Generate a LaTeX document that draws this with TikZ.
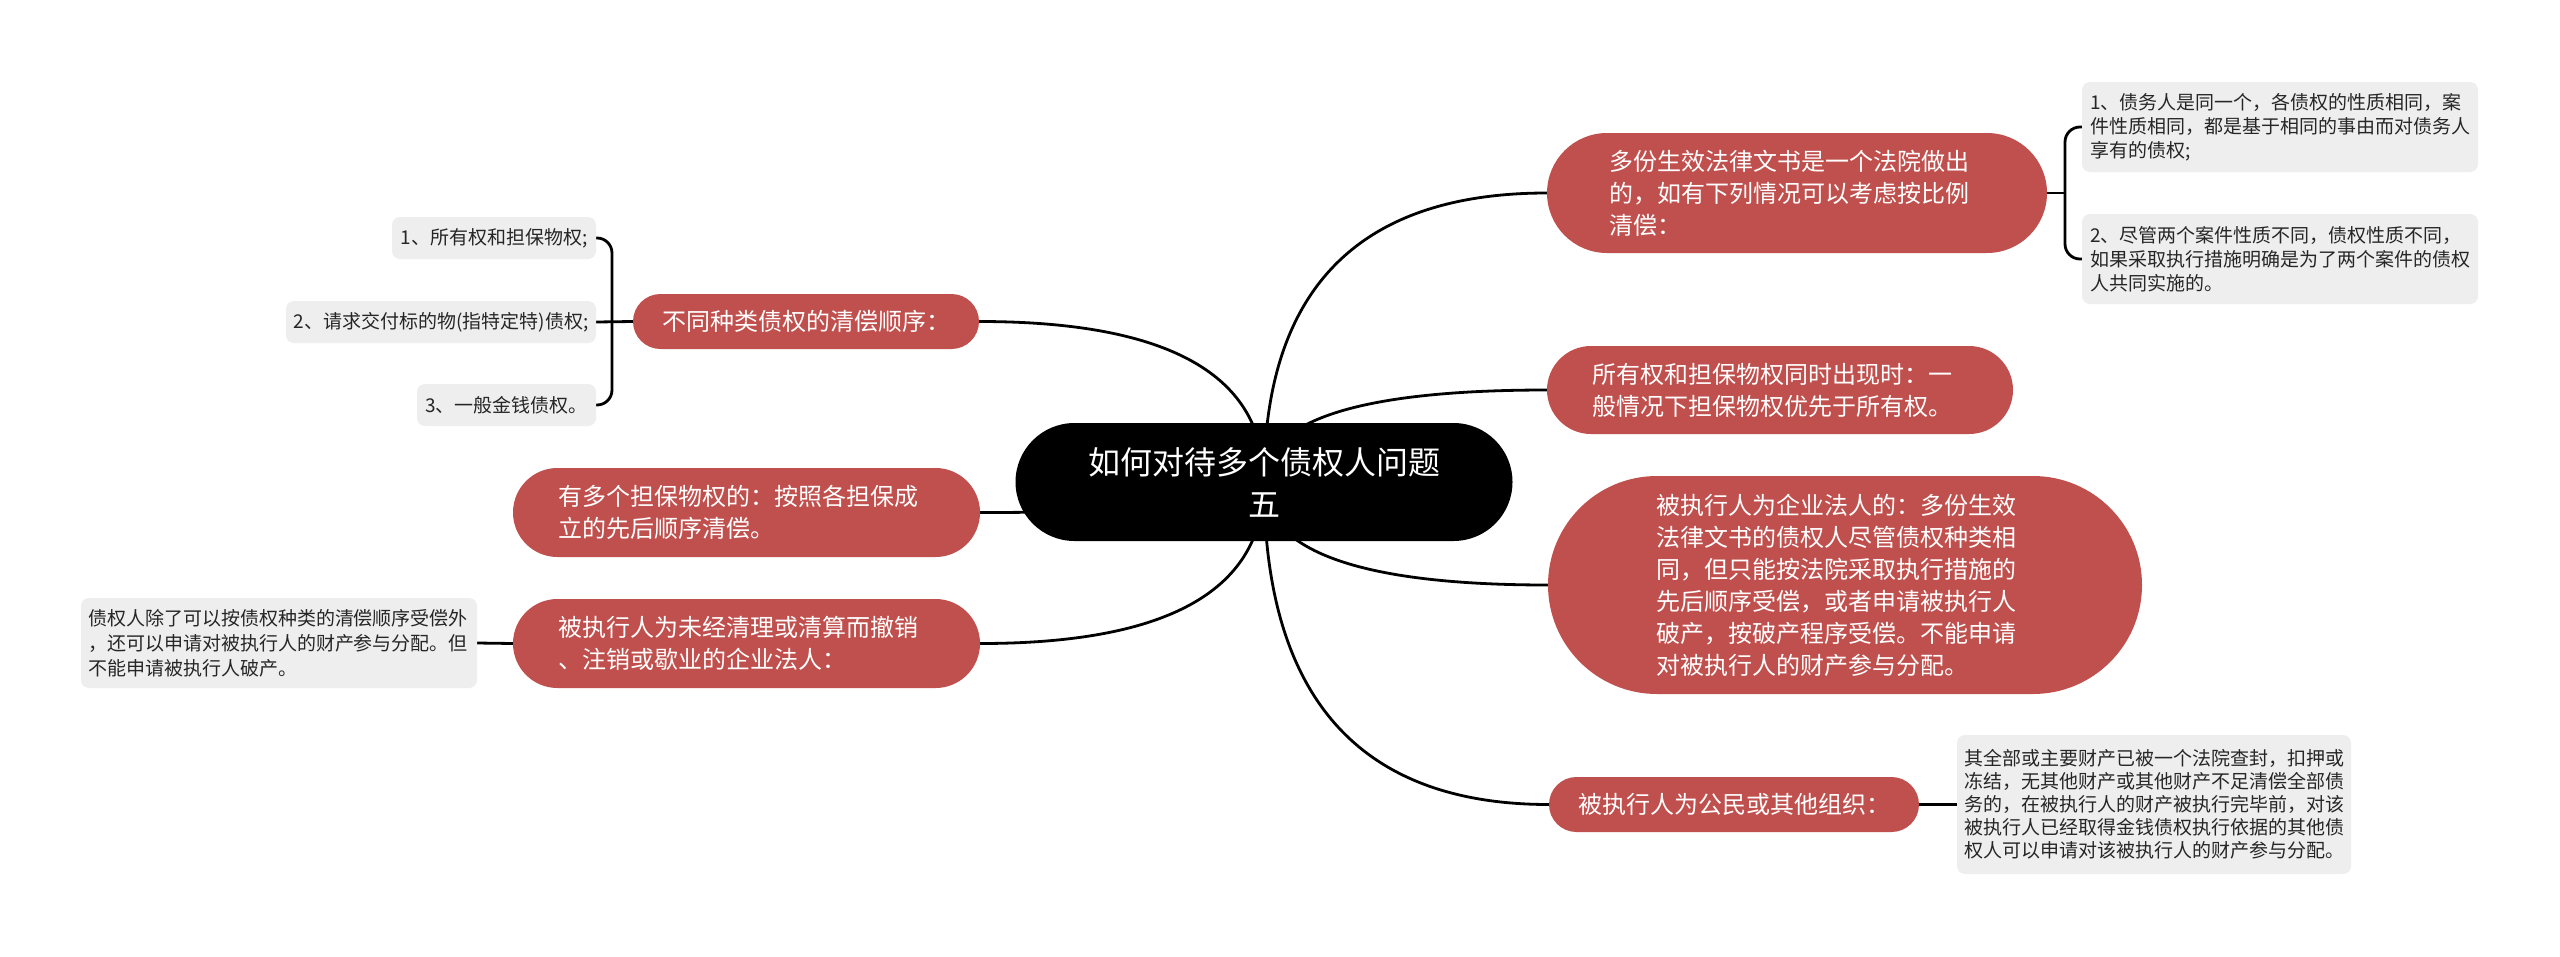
\documentclass[tikz,border=0pt]{standalone}
\usepackage{fontspec}
\setmainfont{Noto Sans CJK SC}
\usetikzlibrary{calc}
\definecolor{nodered}{HTML}{C0504D}
\definecolor{leafgray}{HTML}{EEEEEE}
\definecolor{leaftext}{HTML}{262626}
\pgfdeclarelayer{bg}
\pgfsetlayers{bg,main}
\newcommand\qlink[2]{%
  \coordinate (qtmp) at (#1 |- #2);
  \draw[conn] (#1) .. controls ($(#1)!0.6667!(qtmp)$) and ($(#2)!0.6667!(qtmp)$) .. (#2);}
\begin{document}
\begin{tikzpicture}[x=1pt,y=-1pt,
  conn/.style={draw=black, line width=2.8pt},
  rootbox/.style={fill=black, text=white, font=\fontsize{32}{42}\selectfont, align=center, inner sep=0pt, minimum width=497pt, minimum height=118pt, rounded corners=59pt},
  redbox/.style={fill=nodered, text=white, font=\fontsize{24}{32}\selectfont, align=left, inner sep=0pt},
  leafbox/.style={fill=leafgray, text=leaftext, font=\fontsize{19}{24}\selectfont, inner sep=0pt, rounded corners=8pt},
]
\useasboundingbox (0,0) rectangle (2560,956);

% root
\node[rootbox] (root) at (1264,482) {如何对待多个债权人问题\\五};

% right main nodes
\node[redbox, minimum width=500pt, minimum height=120pt, rounded corners=60pt, text width=376pt] (n1) at (1797,193)
  {多份生效法律文书是一个法院做出\\的，如有下列情况可以考虑按比例\\清偿：};
\node[redbox, minimum width=466pt, minimum height=88pt, rounded corners=44pt, text width=376pt] (n2) at (1780,390)
  {所有权和担保物权同时出现时：一\\般情况下担保物权优先于所有权。};
\node[redbox, minimum width=594pt, minimum height=218pt, rounded corners=109pt, text width=378pt] (n3) at (1845,585)
  {被执行人为企业法人的：多份生效\\法律文书的债权人尽管债权种类相\\同，但只能按法院采取执行措施的\\先后顺序受偿，或者申请被执行人\\破产，按破产程序受偿。不能申请\\对被执行人的财产参与分配。};
\node[redbox, minimum width=370pt, minimum height=55pt, rounded corners=27.5pt, align=center] (n4) at (1734,804.5)
  {被执行人为公民或其他组织：};

% left main nodes
\node[redbox, minimum width=346pt, minimum height=55pt, rounded corners=27.5pt, align=center] (n5) at (806,321.5)
  {不同种类债权的清偿顺序：};
\node[redbox, minimum width=467pt, minimum height=89pt, rounded corners=44.5pt, text width=376pt] (n6) at (746.5,512.5)
  {有多个担保物权的：按照各担保成\\立的先后顺序清偿。};
\node[redbox, minimum width=467pt, minimum height=89pt, rounded corners=44.5pt, text width=376pt] (n7) at (746.5,643.5)
  {被执行人为未经清理或清算而撤销\\、注销或歇业的企业法人：};

% right leaves
\node[leafbox, minimum width=396pt, minimum height=90pt, text width=380pt, align=left] (r1) at (2280,127)
  {1、债务人是同一个，各债权的性质相同，案\\件性质相同，都是基于相同的事由而对债务人\\享有的债权;};
\node[leafbox, minimum width=396pt, minimum height=90pt, text width=380pt, align=left] (r2) at (2280,259)
  {2、尽管两个案件性质不同，债权性质不同，\\如果采取执行措施明确是为了两个案件的债权\\人共同实施的。};
\node[leafbox, minimum width=394pt, minimum height=139pt, text width=380pt, align=left, font=\fontsize{19}{23}\selectfont] (r3) at (2154,804.5)
  {其全部或主要财产已被一个法院查封，扣押或\\冻结，无其他财产或其他财产不足清偿全部债\\务的，在被执行人的财产被执行完毕前，对该\\被执行人已经取得金钱债权执行依据的其他债\\权人可以申请对该被执行人的财产参与分配。};

% left leaves
\node[leafbox, minimum width=204pt, minimum height=42pt, align=center] (l1) at (494,238) {1、所有权和担保物权;};
\node[leafbox, minimum width=310pt, minimum height=42pt, align=center] (l2) at (441,322) {2、请求交付标的物(指特定特)债权;};
\node[leafbox, minimum width=179pt, minimum height=42pt, align=center] (l3) at (506.5,405) {3、一般金钱债权。};
\node[leafbox, minimum width=396pt, minimum height=90pt, text width=382pt, align=left, font=\fontsize{19}{25}\selectfont] (l4) at (279,643)
  {债权人除了可以按债权种类的清偿顺序受偿外\\，还可以申请对被执行人的财产参与分配。但\\不能申请被执行人破产。};

\coordinate (bxr) at (2065,193);
\coordinate (bxl) at (612,322);

\begin{pgfonlayer}{bg}
  \fill[white] (0,0) rectangle (2560,956);
  \qlink{root.center}{n1.west}
  \qlink{root.center}{n2.west}
  \qlink{root.center}{n3.west}
  \qlink{root.center}{n4.west}
  \qlink{root.center}{n5.east}
  \qlink{root.center}{n6.east}
  \qlink{root.center}{n7.east}
  % right bracket
  \draw[conn] (n1.east) -- (bxr);
  \draw[conn, rounded corners=15pt] (r1.west) -| (bxr) |- (r2.west);
  % left bracket
  \draw[conn] (l2.east) -- (n5.west);
  \draw[conn, rounded corners=15pt] (l1.east) -| (bxl) |- (l3.east);
  % single leaves
  \draw[conn] (n4.east) -- (r3.west);
  \draw[conn] (n7.west) -- (l4.east);
\end{pgfonlayer}
\end{tikzpicture}
\end{document}
